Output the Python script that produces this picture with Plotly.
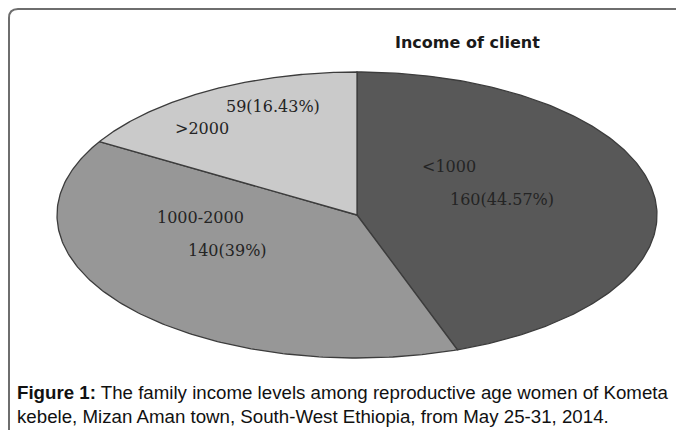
import numpy as np
import plotly.graph_objects as go

# ---- data ----
categories = ["<1000", "1000-2000", ">2000"]
counts = [160, 140, 59]
percent_labels = ["44.57%", "39%", "16.43%"]
title_text = "Income of client"
caption_bold = "Figure 1:"
caption_text = ("The family income levels among reproductive age women of Kometa<br>"
                "kebele, Mizan Aman town, South-West Ethiopia, from May 25-31, 2014.")

# ---- layout / style (pixels) ----
W, H = 676, 430
CX, CY, RX, RY = 357, 215, 300, 143
slice_colors = ["#585858", "#979797", "#cacaca"]
edge_color = "#3c3c3c"
cat_label_pos = [(449, 166), (200, 217), (202, 128)]
val_label_pos = [(502, 200), (227, 250), (273, 107)]


def px(x):
    return x / W


def py(y):
    return 1 - y / H


fig = go.Figure()

total = float(sum(counts))
start = 0.0
for cat, cnt, col in zip(categories, counts, slice_colors):
    frac = cnt / total
    t = np.linspace(start, start + frac, 200) * 2 * np.pi
    xs = np.concatenate([[0], np.sin(t), [0]])
    ys = np.concatenate([[0], np.cos(t), [0]])
    fig.add_trace(go.Scatter(
        x=xs, y=ys, mode="lines", fill="toself", fillcolor=col,
        line=dict(color=edge_color, width=1.3), name=cat,
        hoverinfo="name", showlegend=False))
    start += frac

annotations = []
label_font = dict(family="DejaVu Serif", size=16, color="#242424")
for cat, cnt, pct, cp, vp in zip(categories, counts, percent_labels,
                                 cat_label_pos, val_label_pos):
    annotations.append(dict(text=cat, x=px(cp[0]), y=py(cp[1]), xref="paper",
                            yref="paper", showarrow=False, font=label_font,
                            xanchor="center", yanchor="middle"))
    annotations.append(dict(text=f"{cnt}({pct})", x=px(vp[0]), y=py(vp[1]),
                            xref="paper", yref="paper", showarrow=False,
                            font=label_font, xanchor="center", yanchor="middle"))

annotations.append(dict(text=f"<b>{title_text}</b>", x=px(467), y=py(42),
                        xref="paper", yref="paper", showarrow=False,
                        font=dict(family="DejaVu Sans", size=16, color="#1a1a1a"),
                        xanchor="center", yanchor="middle"))

annotations.append(dict(text=f"<b>{caption_bold}</b> {caption_text}",
                        x=px(15), y=py(380), xref="paper", yref="paper",
                        showarrow=False, align="left",
                        font=dict(family="Liberation Sans", size=18.7, color="#111111"),
                        xanchor="left", yanchor="top"))

frame_path = (f"M {px(9)},{py(432)} L {px(9)},{py(18)} "
              f"Q {px(9)},{py(9)} {px(18)},{py(9)} L {px(680)},{py(9)}")

fig.update_layout(
    width=W, height=H,
    margin=dict(l=0, r=0, t=0, b=0),
    paper_bgcolor="white", plot_bgcolor="white",
    xaxis=dict(range=[-CX / RX, (W - CX) / RX], visible=False, fixedrange=True),
    yaxis=dict(range=[-(H - CY) / RY, CY / RY], visible=False, fixedrange=True),
    annotations=annotations,
    shapes=[dict(type="path", path=frame_path, xref="paper", yref="paper",
                 line=dict(color="#6e6e6e", width=2))],
    showlegend=False,
)

fig.write_html("out.html")
